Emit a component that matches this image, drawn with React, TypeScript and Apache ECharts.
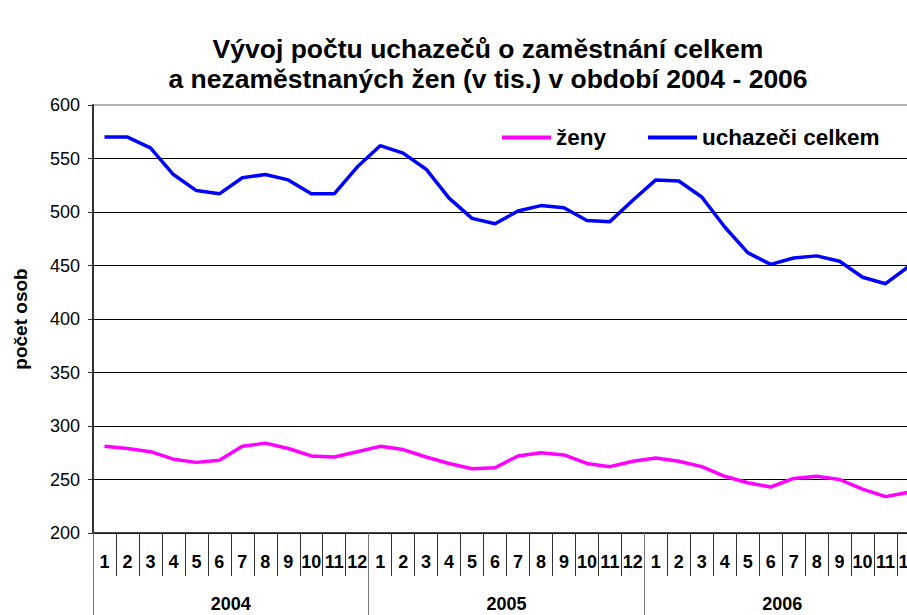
import React, { useEffect, useRef } from "react";
import * as echarts from "echarts";

const months: string[] = ["1","2","3","4","5","6","7","8","9","10","11","12","1","2","3","4","5","6","7","8","9","10","11","12","1","2","3","4","5","6","7","8","9","10","11","12"];
const years: string[] = ["2004", "2005", "2006"];
const uchazeci: number[] = [570,570,560,535,520,517,532,535,530,517,517,542, 562,555,540,513,494,489,501,506,504,492,491,511, 530,529,514,486,462,451,457,459,454,439,433,449];
const zeny: number[] = [281,279,276,269,266,268,281,284,279,272,271,276, 281,278,271,265,260,261,272,275,273,265,262,267, 270,267,262,253,247,243,251,253,250,241,234,238];
const yTicks = { min: 200, max: 600, interval: 50 };

const FONT = "'Liberation Sans', Arial, sans-serif";

export default function App() {
  const ref = useRef<HTMLDivElement>(null);
  useEffect(() => {
    if (!ref.current) return;
    const chart = echarts.init(ref.current, undefined, { renderer: "svg" });
    chart.setOption({
      animation: false,
      backgroundColor: "#ffffff",
      textStyle: { fontFamily: FONT },
      title: {
        text: "Vývoj počtu uchazečů o zaměstnání celkem\na nezaměstnaných žen (v tis.) v období 2004 - 2006",
        left: "center",
        top: 29,
        textStyle: { fontFamily: FONT, fontSize: 26.5, fontWeight: "bold", lineHeight: 30, color: "#000" },
      },
      legend: {
        data: ["ženy", "uchazeči celkem"],
        left: 497,
        top: 121,
        icon: "rect",
        itemWidth: 49,
        itemHeight: 4,
        itemGap: 42,
        textStyle: { fontFamily: FONT, fontSize: 22.5, fontWeight: "bold", color: "#000" },
      },
      grid: {
        left: 93,
        top: 105,
        width: 827,
        height: 428,
        show: true,
        borderColor: "#999",
        borderWidth: 1.5,
        containLabel: false,
      },
      xAxis: [
        {
          type: "category",
          data: months,
          position: "bottom",
          boundaryGap: true,
          axisLine: { show: true, lineStyle: { color: "#222", width: 1.5 } },
          axisTick: { show: true, interval: 0, length: 43, lineStyle: { color: "#333", width: 1 } },
          axisLabel: { interval: 0, margin: 20, fontFamily: FONT, fontSize: 18, fontWeight: "bold", color: "#000" },
          splitLine: { show: false },
        },
        {
          type: "category",
          data: years,
          position: "bottom",
          boundaryGap: true,
          axisLine: { show: false },
          axisTick: { show: true, interval: 0, length: 110, lineStyle: { color: "#777", width: 1 } },
          axisLabel: { interval: 0, margin: 62, fontFamily: FONT, fontSize: 18, fontWeight: "bold", color: "#000" },
          splitLine: { show: false },
        },
      ],
      yAxis: {
        type: "value",
        min: yTicks.min,
        max: yTicks.max,
        interval: yTicks.interval,
        name: "počet osob",
        nameLocation: "middle",
        nameRotate: 90,
        nameGap: 63,
        nameMoveOverlap: false,
        nameTextStyle: { fontFamily: FONT, fontSize: 19, fontWeight: "bold", color: "#000" },
        axisLine: { show: true, lineStyle: { color: "#333", width: 2 } },
        axisTick: { show: true, length: 5, lineStyle: { color: "#333" } },
        axisLabel: { margin: 13, fontFamily: FONT, fontSize: 18, color: "#000" },
        splitLine: { show: true, showMaxLine: false, lineStyle: { color: "#000", width: 1 } },
      },
      series: [
        {
          name: "ženy",
          type: "line",
          data: zeny,
          symbol: "none",
          xAxisIndex: 0,
          lineStyle: { color: "#ff00ff", width: 3.5 },
          itemStyle: { color: "#ff00ff" },
        },
        {
          name: "uchazeči celkem",
          type: "line",
          data: uchazeci,
          symbol: "none",
          xAxisIndex: 0,
          lineStyle: { color: "#0000ff", width: 3.5 },
          itemStyle: { color: "#0000ff" },
        },
      ],
    });
    return () => chart.dispose();
  }, []);
  return (
    <div style={{ position: "fixed", left: 0, top: 0, width: 907, height: 615, overflow: "hidden", background: "#fff" }}>
      <div ref={ref} style={{ width: 976, height: 660 }} />
    </div>
  );
}
